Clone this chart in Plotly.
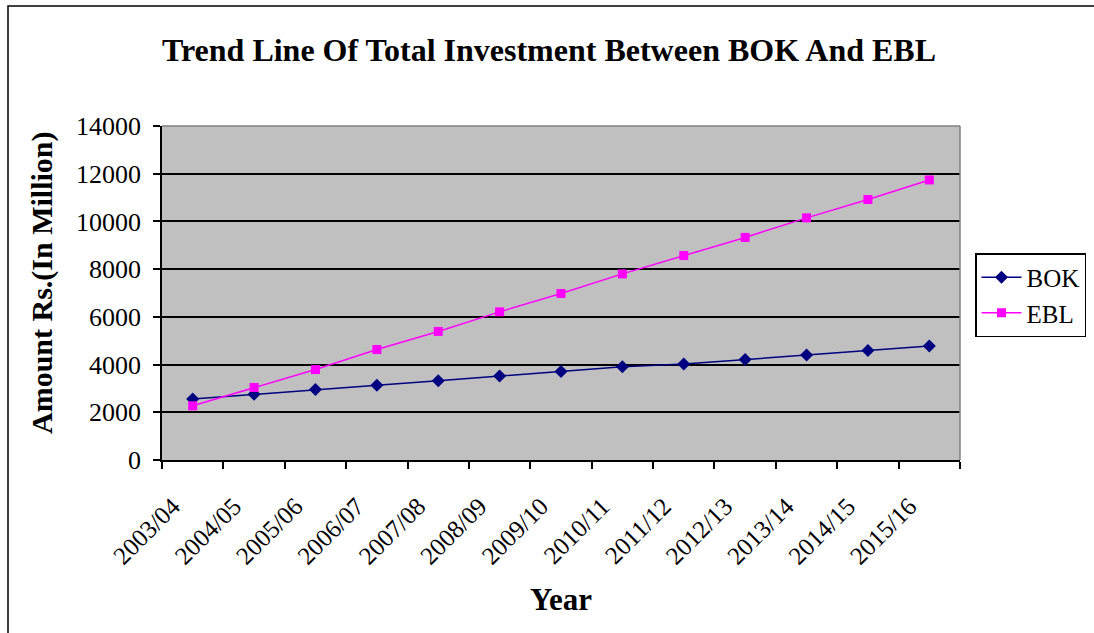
import plotly.graph_objects as go

years = ["2003/04", "2004/05", "2005/06", "2006/07", "2007/08", "2008/09", "2009/10",
         "2010/11", "2011/12", "2012/13", "2013/14", "2014/15", "2015/16"]
bok = [2560, 2760, 2960, 3130, 3320, 3520, 3710, 3910, 4020, 4210, 4400, 4590, 4780]
ebl = [2270, 3040, 3790, 4630, 5390, 6210, 6980, 7800, 8570, 9330, 10150, 10920, 11740]

SERIF = "Liberation Serif, Times New Roman, serif"

fig = go.Figure()
fig.add_trace(go.Scatter(
    x=years, y=bok, name="BOK", mode="lines+markers",
    line=dict(color="#000080", width=1.5),
    marker=dict(symbol="diamond", size=10, color="#000080"),
))
fig.add_trace(go.Scatter(
    x=years, y=ebl, name="EBL", mode="lines+markers",
    line=dict(color="#FF00FF", width=1.5),
    marker=dict(symbol="square", size=9, color="#FF00FF"),
))

L, R, T, B = 162, 134, 126, 173
W, H = 1094, 633
pw, ph = W - L - R, H - T - B

def px(x):
    return (x - L) / pw

def py(y):
    return (H - B - y) / ph

fig.update_layout(
    width=W, height=H,
    margin=dict(l=L, r=R, t=T, b=B, autoexpand=False),
    paper_bgcolor="white",
    plot_bgcolor="#C0C0C0",
    font=dict(family=SERIF, color="black", size=26),
    title=dict(
        text="<b>Trend Line Of Total Investment Between BOK And EBL</b>",
        x=px(549), xref="paper", xanchor="center",
        y=1 - 50 / H, yref="container", yanchor="middle",
        font=dict(family=SERIF, size=32, color="black"),
    ),
    showlegend=True,
    legend=dict(
        x=px(975), y=py(253), xanchor="left", yanchor="top",
        bordercolor="black", borderwidth=1.5, bgcolor="white",
        font=dict(family=SERIF, size=25, color="black"),
        itemwidth=40, tracegroupgap=0,
    ),
    xaxis=dict(
        type="category",
        range=[-0.5, len(years) - 0.5],
        tickson="boundaries",
        ticks="outside", ticklen=7, tickwidth=1.5, tickcolor="black",
        tickangle=-45,
        ticklabelstandoff=20, ticklabelshift=-20,
        tickfont=dict(family=SERIF, size=25, color="black"),
        showline=True, linecolor="black", linewidth=1.5,
        showgrid=False,
        title=dict(text="<b>Year</b>", font=dict(family=SERIF, size=31, color="black"), standoff=20),
    ),
    yaxis=dict(
        range=[0, 14000], dtick=2000, tick0=0, tickformat="d",
        ticks="outside", ticklen=7, tickwidth=1.5, tickcolor="black",
        ticklabelstandoff=7,
        tickfont=dict(family=SERIF, size=26, color="black"),
        showline=True, linecolor="black", linewidth=1.5,
        showgrid=True, gridcolor="black", gridwidth=1.5,
        zeroline=False,
    ),
    annotations=[
        dict(text="<b>Amount Rs.(In Million)</b>", xref="paper", yref="paper",
             x=px(42), y=py(283), xanchor="center", yanchor="middle",
             textangle=-90, showarrow=False,
             font=dict(family=SERIF, size=30, color="black")),
    ],
    shapes=[
        dict(type="line", xref="paper", yref="paper", x0=0, x1=1, y0=1, y1=1,
             line=dict(color="#808080", width=1.5)),
        dict(type="line", xref="paper", yref="paper", x0=1, x1=1, y0=0, y1=1,
             line=dict(color="#808080", width=1.5)),
        dict(type="rect", xref="paper", yref="paper",
             x0=px(8), x1=px(1100), y0=py(640), y1=py(6),
             line=dict(color="black", width=1.5), layer="below"),
    ],
)

fig.write_html("out.html", config={"displayModeBar": False},
               post_script="document.body.style.margin='0';document.body.style.padding='0';")
